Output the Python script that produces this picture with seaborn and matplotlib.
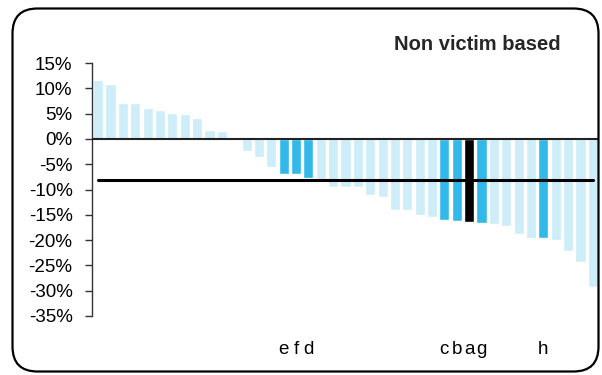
import numpy as np
import pandas as pd
import matplotlib
matplotlib.use('Agg')
import matplotlib.pyplot as plt
import seaborn as sns
from matplotlib.patches import FancyBboxPatch
from matplotlib.ticker import FuncFormatter

# Values (percent change), sorted high to low
values = [11.7, 10.9, 7.0, 7.0, 6.1, 5.7, 5.2, 4.9, 4.2, 1.8, 1.6,
          -0.3, -2.3, -3.6, -5.5, -7.0, -7.0, -7.7, -7.9, -9.6, -9.6,
          -9.6, -11.0, -11.4, -14.0, -14.0, -15.0, -15.4, -16.0, -16.2, -16.5,
          -16.7, -16.9, -17.3, -18.7, -19.5, -19.5, -19.9, -22.1, -24.3, -29.2]
# which bars are highlighted: 0 = other, 1 = named, 2 = the focus bar
kind = [0] * 15 + [1, 1, 1] + [0] * 10 + [1, 1, 2, 1] + [0] * 4 + [1] + [0] * 4
labels = [''] * 15 + ['e', 'f', 'd'] + [''] * 10 + ['c', 'b', 'a', 'g'] + [''] * 4 + ['h'] + [''] * 4
average = -8.1
title = 'Non victim based'

light, dark, focus = '#cdedf9', '#33b9e9', '#000000'
colors = [[light, dark, focus][k] for k in kind]

df = pd.DataFrame({'pos': [str(i) for i in range(len(values))], 'value': values})

sns.set_style('white')
plt.rcParams['font.family'] = ['Liberation Sans', 'DejaVu Sans']

fig = plt.figure(figsize=(6.02, 3.75), dpi=100)
ax = fig.add_axes([92 / 602, 1 - 316 / 375, 507 / 602, 253 / 375])

sns.barplot(data=df, x='pos', y='value', hue='pos', palette=colors,
            legend=False, width=0.82, saturation=1, ax=ax)
ax.plot(range(len(values)), [average] * len(values), color='black', lw=2.2, zorder=5)
ax.axhline(0, color='#222222', lw=1.5, zorder=4)

ax.set_ylim(-35, 15)
ax.set_yticks(np.arange(-35, 16, 5))
ax.yaxis.set_major_formatter(FuncFormatter(lambda v, p: f'{v:.0f}%'))
ax.set_xlim(-0.5, len(values) - 0.5)
ax.set_xticks(range(len(values)))
ax.set_xticklabels(labels)
ax.set_xlabel('')
ax.set_ylabel('')

for s in ['top', 'right', 'bottom']:
    ax.spines[s].set_visible(False)
ax.spines['left'].set_color('#333333')
ax.spines['left'].set_linewidth(1)
ax.tick_params(axis='y', length=5, width=1, color='#333333', pad=9,
               labelsize=13.5, labelcolor='black', left=True)
ax.tick_params(axis='x', length=0, pad=18, labelsize=13.5, labelcolor='black')

fig.text(477 / 602, 1 - 45 / 375, title, ha='center', va='center',
         fontsize=14.5, fontweight='bold')

border = FancyBboxPatch((0.125, 0.035), 5.86, 3.63,
                        boxstyle='round,pad=0,rounding_size=0.25',
                        transform=fig.dpi_scale_trans, fill=False,
                        edgecolor='black', lw=1.6)
fig.patches.append(border)

fig.savefig('out.png', dpi=100)
